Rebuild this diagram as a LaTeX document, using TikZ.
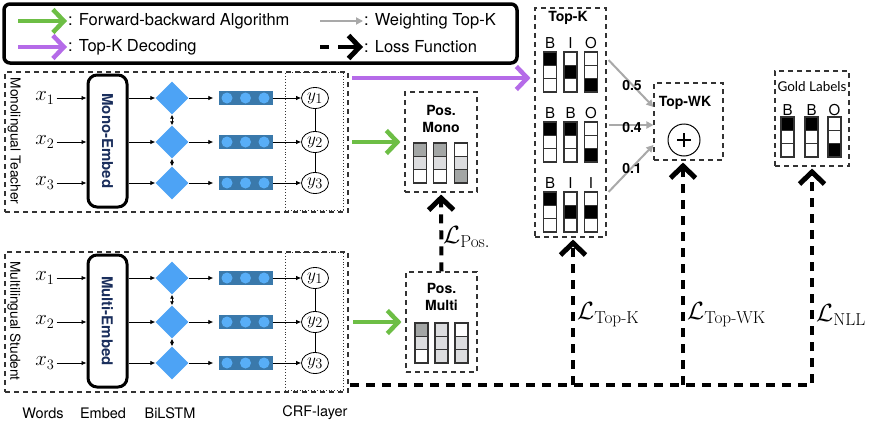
\documentclass[tikz,border=0pt]{standalone}
\usepackage[no-math]{fontspec}
\usepackage{amsmath}
\setmainfont{TeX Gyre Heros}
\newfontfamily\latofont{Lato}
\newfontfamily\lmfont{Latin Modern Roman}
\usetikzlibrary{arrows.meta,shapes.geometric,calc}

\definecolor{fbgreen}{HTML}{6DBE45}
\definecolor{tkpurple}{HTML}{B56BE8}
\definecolor{wgray}{HTML}{A9A9A9}
\definecolor{dmblue}{HTML}{4DA3F5}
\definecolor{barblue}{HTML}{3A79AB}
\definecolor{dotblue}{HTML}{58AEF7}
\definecolor{navy}{HTML}{1A2E5C}
\definecolor{cdark}{HTML}{A3A6A5}
\definecolor{clight}{HTML}{DCDDDF}
\definecolor{edgec}{HTML}{333333}

\newcommand\FSz[1]{\fontsize{#1}{#1}\selectfont}
\newcommand\lmhy{\text{\lmfont -}}

\tikzset{
  dbox/.style={draw=edgec, line width=1.1pt, dash pattern=on 5pt off 4pt, inner sep=0pt},
  outerbox/.style={dbox, minimum width=343pt, minimum height=140pt},
  crfbox/.style={draw=edgec, line width=0.9pt, dotted, minimum width=58pt, minimum height=138pt, inner sep=0pt},
  sidelabel/.style={rotate=-90, font=\FSz{13.7}, inner sep=0pt},
  embedbox/.style={draw, line width=3pt, rounded corners=9pt, rotate=-90, minimum width=132pt, minimum height=39pt, inner sep=0pt, font=\bfseries\FSz{15}, text=navy},
  wordx/.style={font=\FSz{21}, inner sep=2pt},
  lstmd/.style={diamond, aspect=1, fill=dmblue, minimum size=33pt, inner sep=0pt},
  hbar/.style={rectangle, fill=barblue, minimum width=54pt, minimum height=14pt, inner sep=0pt},
  ycirc/.style={ellipse, draw, line width=0.8pt, minimum width=27pt, minimum height=21pt, inner sep=0pt, font=\FSz{19}},
  thinarr/.style={line width=0.8pt, -{Latex[length=5pt,width=4.5pt]}},
  dblarr/.style={line width=0.8pt, {Latex[length=4pt,width=4pt]}-{Latex[length=4pt,width=4pt]}},
  legtext/.style={font=\FSz{16.5}, anchor=west, inner sep=1pt},
  bigarr/.style={line width=4pt, -{Straight Barb[length=11pt,width=23pt,line width=4.5pt]}},
  greenarr/.style={bigarr, draw=fbgreen},
  purparr/.style={bigarr, draw=tkpurple},
  grayarr/.style={line width=2pt, draw=wgray, -{Triangle[length=7pt,width=7pt]}},
  lossline/.style={line width=4pt, dash pattern=on 9pt off 7pt, -{Straight Barb[length=12pt,width=25pt,line width=5pt]}, shorten >=2pt},
  titlet/.style={font=\bfseries\fontsize{14}{17}\selectfont, align=center, inner sep=0pt},
  biolet/.style={font=\FSz{15}, inner sep=0pt},
  weightt/.style={font=\bfseries\FSz{14}, inner sep=0pt},
  losslab/.style={font=\FSz{24}, anchor=west, inner sep=0pt},
  bottomlab/.style={font=\FSz{14.5}, inner sep=0pt},
  cell/.style={draw=edgec, line width=1.3pt},
}

% column of three cells: x centre, y top, three fills
\newcommand\cellcol[5]{%
  \foreach \k/\f in {0/#3,1/#4,2/#5}{%
    \draw[cell, fill=\f] ({#1-6.5},{#2+\k*13.33}) rectangle ({#1+6.5},{#2+(\k+1)*13.33});
  }%
}

% one BiLSTM-CRF block: prefix, top y, embed text, side text
\newcommand\nerblock[4]{%
  \node[outerbox] (#1box) at (176.5,{#2+70}) {};
  \node[sidelabel] (#1side) at (14,{#2+69}) {#4};
  \node[crfbox] (#1crf) at (314,{#2+69}) {};
  \node[embedbox] (#1emb) at (107.5,{#2+69}) {#3};
  \foreach \i/\dy in {1/26,2/70,3/111}{%
    \node[wordx] (#1x\i) at (45,{#2+\dy}) {$x_{\i}$};
    \node[lstmd] (#1d\i) at (172,{#2+\dy}) {};
    \node[hbar] (#1h\i) at (245.5,{#2+\dy}) {};
    \node[ycirc] (#1y\i) at (315,{#2+\dy}) {$y_{\i}$};
    \foreach \o in {-18.5,0,18.5} \fill[dotblue] ($(#1h\i)+(\o,0)$) circle[radius=5.5pt];
    \draw[thinarr] (#1x\i) -- (#1x\i -| #1emb.south);
    \draw[thinarr] (#1d\i -| #1emb.north) -- (#1d\i);
    \draw[thinarr, shorten >=5pt] (#1d\i) -- (#1h\i);
    \draw[thinarr] (#1h\i) -- (#1y\i);
  }
  \draw[dblarr] (#1d1) -- (#1d2);
  \draw[dblarr] (#1d2) -- (#1d3);
  \draw[line width=0.8pt] (#1y1) -- (#1y2);
  \draw[line width=0.8pt] (#1y2) -- (#1y3);
}

\begin{document}
\begin{tikzpicture}[x=1pt,y=-1pt]
\useasboundingbox[fill=white] (0,0) rectangle (872,423);

% ---------- legend ----------
\node[draw, line width=3.5pt, rounded corners=6pt, minimum width=513pt, minimum height=59pt, inner sep=0pt] (legend) at (260.5,33.5) {};
\node[legtext] (lg1) at (67,21) {: Forward-backward Algorithm};
\node[legtext] (lg2) at (363,21) {: Weighting Top-K};
\node[legtext] (lg3) at (67,47) {: Top-K Decoding};
\node[legtext] (lg4) at (363,47) {: Loss Function};
\coordinate (lga1) at (18,21);
\coordinate (lga2) at (320,21);
\coordinate (lga3) at (18,47);
\coordinate (lgd1) at (320,47);
\coordinate (lgd2) at (329,47);
\coordinate (lga4) at (338,47);
\draw[greenarr] (lga1) -- (lg1.west);
\draw[grayarr] (lga2) -- (lg2.west);
\draw[purparr] (lga3) -- (lg3.west);
\draw[line width=4pt] (lgd1) -- (lgd2);
\draw[line width=4pt, -{Straight Barb[length=11pt,width=23pt,line width=5pt]}] (lga4) -- (lg4.west);

% ---------- teacher and student ----------
\nerblock{T}{72}{Mono-Embed}{Monolingual Teacher}
\nerblock{S}{252}{Multi-Embed}{Multilingual Student}

\node[bottomlab] (bw) at (43,413) {Words};
\node[bottomlab] (be) at (103,413) {Embed};
\node[bottomlab] (bb) at (170,413) {BiLSTM};
\node[bottomlab] (bc) at (315,413) {CRF-layer};

% ---------- Pos. boxes ----------
\node[dbox, minimum width=72pt, minimum height=100pt] (posmono) at (441,142) {};
\node[titlet] (posmonot) at (441,119) {Pos.\\Mono};
\cellcol{420}{143}{cdark}{clight}{white}
\cellcol{440}{143}{cdark}{clight}{white}
\cellcol{461}{143}{white}{clight}{cdark}

\node[dbox, minimum width=71pt, minimum height=100pt] (posmulti) at (441.5,322) {};
\node[titlet] (posmultit) at (441.5,297) {Pos.\\Multi};
\cellcol{421.5}{323}{cdark}{clight}{white}
\cellcol{441.5}{323}{clight}{clight}{clight}
\cellcol{461.5}{323}{white}{clight}{clight}

% ---------- Top-K ----------
\node[dbox, minimum width=71pt, minimum height=229pt] (topk) at (570.5,122.5) {};
\node[titlet] (topkt) at (568,18) {Top-K};
\node[biolet] (k1a) at (550,43) {B};
\node[biolet] (k1b) at (570.5,43) {I};
\node[biolet] (k1c) at (591,43) {O};
\cellcol{550}{52}{black}{white}{white}
\cellcol{570.5}{52}{white}{black}{white}
\cellcol{591}{52}{white}{white}{black}
\node[biolet] (k2a) at (550,113) {B};
\node[biolet] (k2b) at (570.5,113) {B};
\node[biolet] (k2c) at (591,113) {O};
\cellcol{550}{122}{black}{white}{white}
\cellcol{570.5}{122}{black}{white}{white}
\cellcol{591}{122}{white}{white}{black}
\node[biolet] (k3a) at (550,183) {B};
\node[biolet] (k3b) at (570.5,183) {I};
\node[biolet] (k3c) at (591,183) {I};
\cellcol{550}{192}{black}{white}{white}
\cellcol{570.5}{192}{white}{black}{white}
\cellcol{591}{192}{white}{black}{white}

% ---------- Top-WK ----------
\node[dbox, minimum width=69pt, minimum height=77pt] (topwk) at (688.5,121.5) {};
\node[titlet] (topwkt) at (685,103) {Top-WK};
\node[circle, draw, line width=1pt, minimum size=32pt, inner sep=0pt] (plus) at (684,140) {};
\draw[line width=2.6pt] ($(plus)+(-7,0)$) -- ($(plus)+(7,0)$);
\draw[line width=2.6pt] ($(plus)+(0,-7)$) -- ($(plus)+(0,7)$);

\draw[grayarr] ([xshift=2pt,yshift=62.5pt]topk.east) -- ([yshift=14.5pt]topwk.west);
\draw[grayarr] ([xshift=2pt,yshift=-2.5pt]topk.east) -- ([yshift=-3.5pt]topwk.west);
\draw[grayarr] ([xshift=2pt,yshift=-69.5pt]topk.east) -- ([yshift=-23.5pt]topwk.west);
\node[weightt] (w1) at (632,85) {0.5};
\node[weightt] (w2) at (632,127) {0.4};
\node[weightt] (w3) at (632,168) {0.1};

% ---------- Gold labels ----------
\node[dbox, minimum width=74pt, minimum height=95pt] (gold) at (812,118.5) {};
\node[font=\latofont\FSz{13.5}, inner sep=0pt] (goldt) at (812,87) {Gold Labels};
\node[biolet] (g1) at (787.5,110) {B};
\node[biolet] (g2) at (811.5,110) {B};
\node[biolet] (g3) at (834.5,110) {O};
\cellcol{787.5}{117}{black}{white}{white}
\cellcol{811.5}{117}{black}{white}{white}
\cellcol{834.5}{117}{white}{white}{black}

% ---------- coloured arrows ----------
\coordinate (pstart) at (352,78);
\draw[purparr, shorten >=4pt] (pstart) -- (pstart -| topk.west);
\coordinate (gtstart) at (352,142);
\draw[greenarr, shorten >=4pt] (gtstart) -- (posmono.west);
\coordinate (gsstart) at (353,322);
\draw[greenarr, shorten >=4pt] (gsstart) -- (posmulti.west);

% ---------- losses ----------
\coordinate (lstart) at (350,385);
\coordinate (lk) at ([xshift=2.5pt]topk.south);
\coordinate (lw) at ([xshift=-5.5pt]topwk.south);
\draw[lossline] (lstart) -| (gold.south);
\draw[lossline] (lk |- lstart) -- (lk);
\draw[lossline] (lw |- lstart) -- (lw);
\draw[lossline] (posmulti.north) -- (posmono.south);

\node[losslab] (lpos) at (443,237) {$\mathcal{L}_{\mathrm{Pos.}}$};
\node[losslab] (ltk) at (577,315) {$\mathcal{L}_{\mathrm{Top}\lmhy\mathrm{K}}$};
\node[losslab] (ltwk) at (687,315) {$\mathcal{L}_{\mathrm{Top}\lmhy\mathrm{WK}}$};
\node[losslab] (lnll) at (816,315) {$\mathcal{L}_{\mathrm{NLL}}$};
\end{tikzpicture}
\end{document}
